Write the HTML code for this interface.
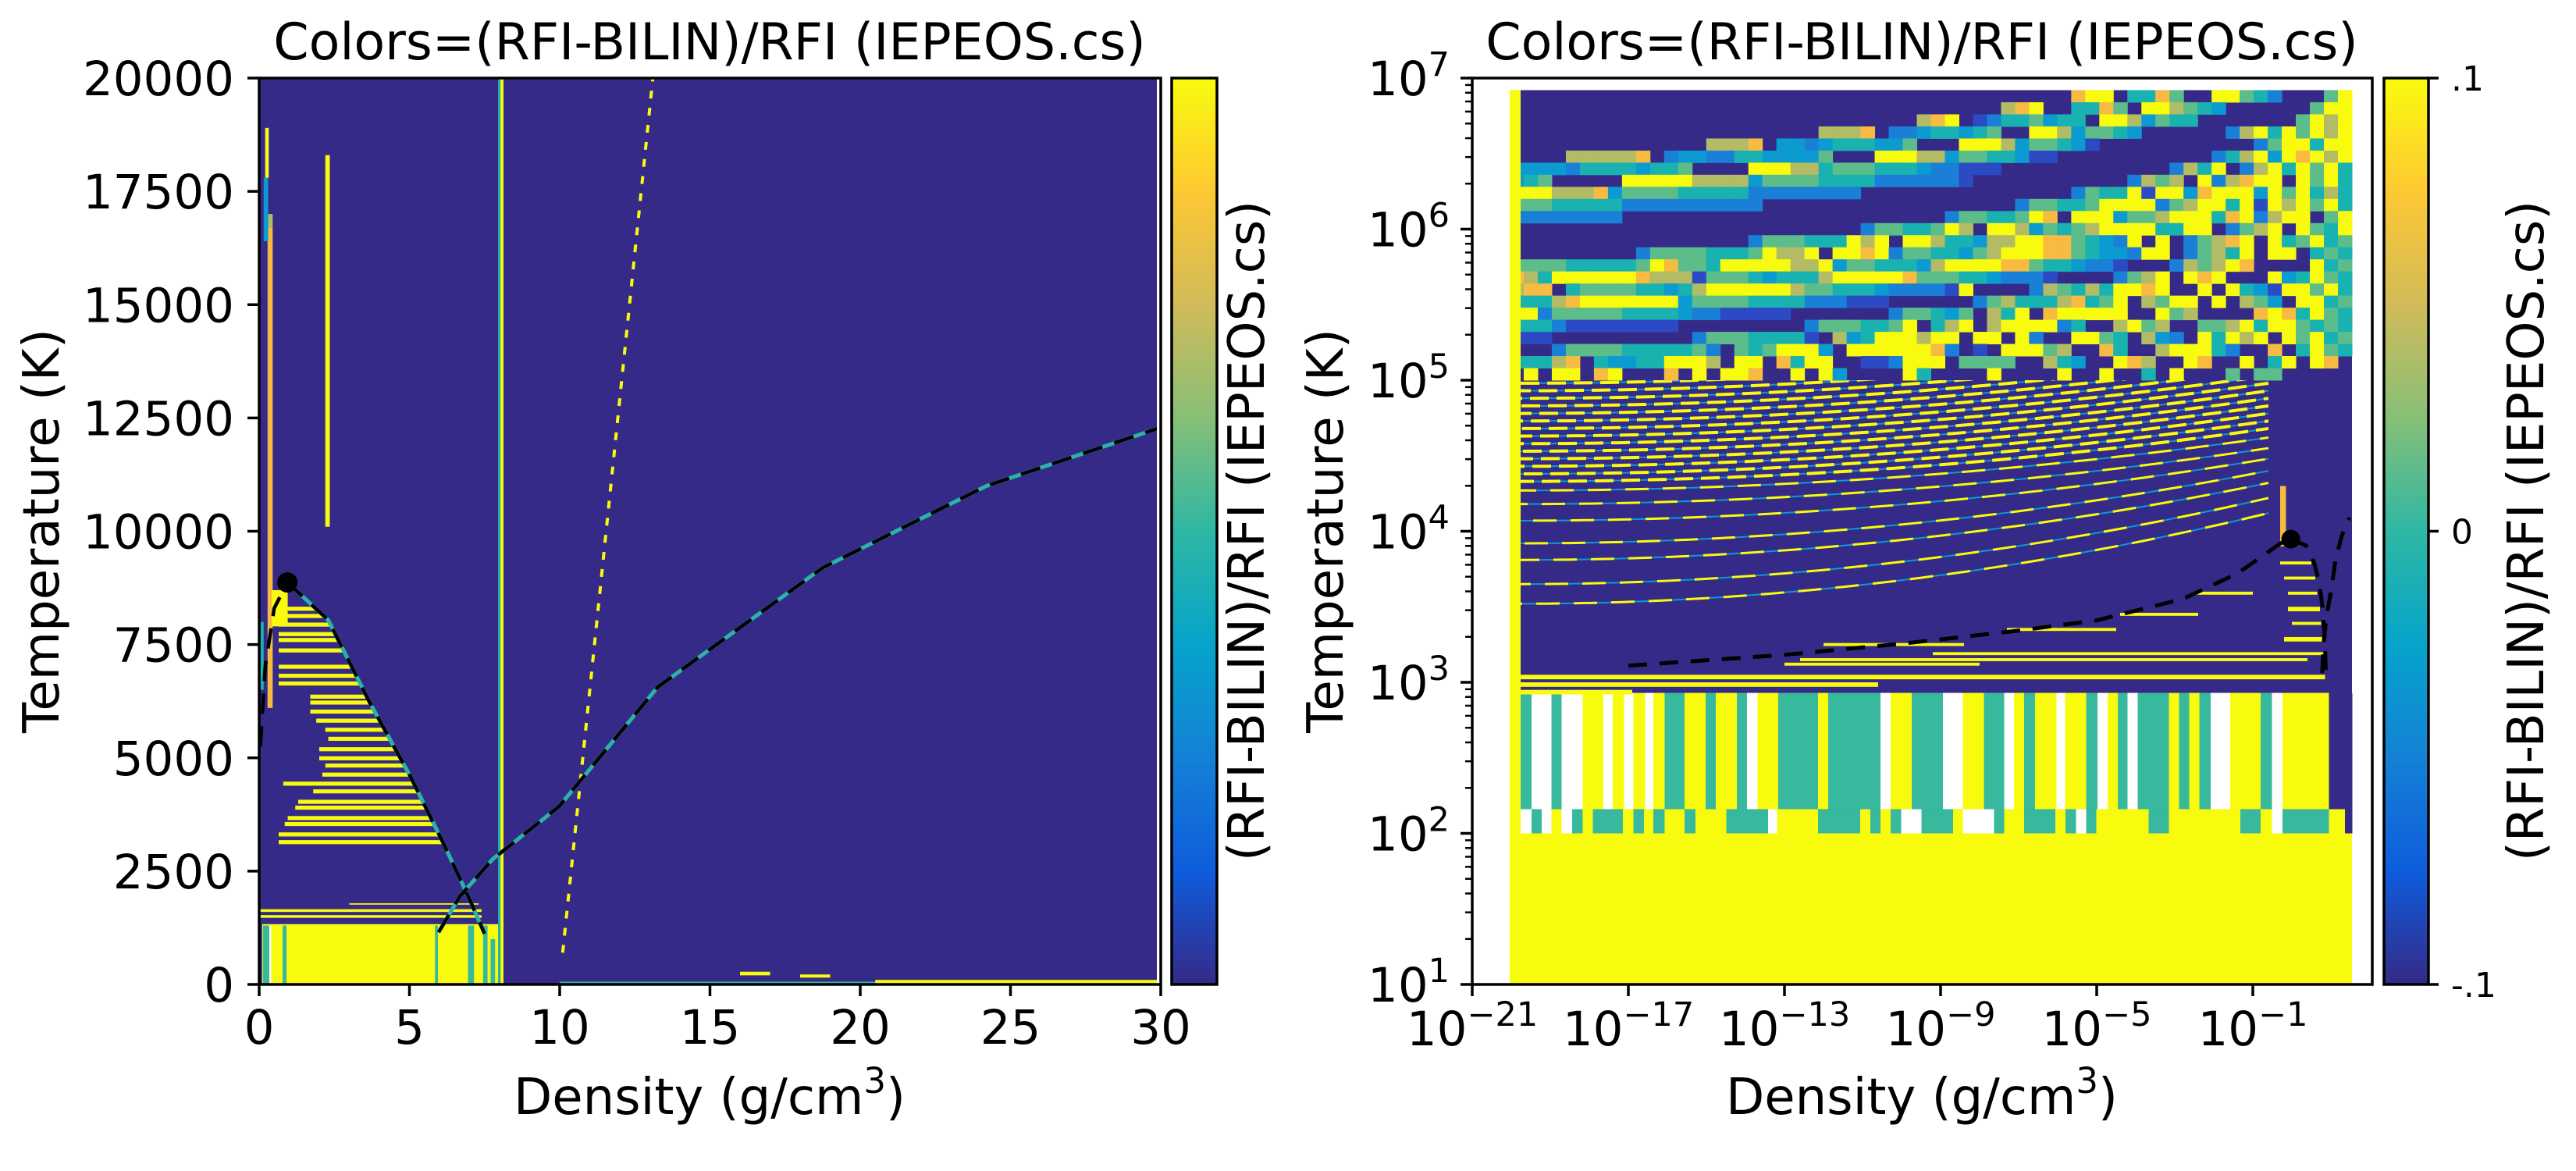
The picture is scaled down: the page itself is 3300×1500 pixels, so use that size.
<!DOCTYPE html>
<html><head><meta charset="utf-8">
<style>
html,body{margin:0;padding:0;background:#fff;}
svg{display:block;font-family:"DejaVu Sans","Liberation Sans",sans-serif;}
</style></head>
<body>
<svg id="chart" xmlns="http://www.w3.org/2000/svg" width="3300" height="1500" viewBox="0 0 3300 1500">
<defs>
<linearGradient id="parula" x1="0" y1="1" x2="0" y2="0">
<stop offset="0" stop-color="#352a87"/><stop offset="0.125" stop-color="#0f5cdd"/><stop offset="0.25" stop-color="#1481d6"/><stop offset="0.375" stop-color="#06a4ca"/><stop offset="0.5" stop-color="#2eb7a4"/><stop offset="0.625" stop-color="#87bf77"/><stop offset="0.75" stop-color="#d1bb59"/><stop offset="0.875" stop-color="#fec832"/><stop offset="1" stop-color="#f9fb0e"/>
</linearGradient>
<clipPath id="clipL"><rect x="332" y="100" width="1150" height="1161"/></clipPath>
<clipPath id="clipR"><rect x="1886" y="100" width="1153" height="1161"/></clipPath>
<clipPath id="clipCurves"><rect x="1886" y="487" width="1153" height="774"/></clipPath>
</defs>
<g id="left-plot"><g id="left-data" clip-path="url(#clipL)"></g></g>
<g id="right-plot"><g id="right-data" clip-path="url(#clipR)"></g></g>
<g id="axes-layer"></g>
</svg>
<script>
// ---------- data ----------
const liqRho=[0.94,2.3,3.67,5.04,6.14,6.96,7.5];
const liqT=[8870,8040,6230,4580,3100,1940,1120];
const gasRho=[1e-17,1e-13,1e-10,1e-7,1e-5,1.6e-3,0.04,0.2,0.5,0.94];
const gasT=[1290,1520,1800,2200,2570,3560,5250,7000,8300,8870];
const thirdRho=[5.97,6.68,7.78,9.97,13.26,18.74,24.2,30];
const thirdT=[1150,1945,2770,3920,6560,9190,11000,12290];
const critRho=[0.94];
const critT=[8870];
const leftStripeT=[8290,8130,7940,7730,7600,7370,7010,6810,6640,6350,6220,6020,5820,5620,5420,5190,4990,4830,4630,4430,4260,4030,3900,3670,3540,3310,3140];
const leftStripeRho0=[0.65,0.65,0.65,0.65,0.65,0.65,0.65,0.65,0.65,1.7,1.7,1.7,1.9,2.2,2.3,2.0,2.0,2.2,2.1,0.8,1.8,1.3,1.2,0.95,0.85,0.65,0.65];
// [rho0,rho1,T0,T1,colorCode]
const leftRects=[
 [0.1,8.0,0,1330,'Y'],[0.13,0.34,0,1300,'S'],[0.34,0.4,30,1300,'W'],[0.78,0.91,0,1300,'S'],[5.85,5.95,0,1300,'S'],[6.95,7.15,0,1300,'S'],[7.45,7.6,0,1300,'S'],[7.7,7.85,0,1000,'S'],
 [0,7.4,1600,1660,'Y'],[0,7.4,1470,1530,'Y'],[3.0,7.3,1760,1790,'Y'],
 [0.28,0.45,6100,16700,'O'],[0.15,0.3,16400,17800,'C'],[0.2,0.32,17800,18900,'Y'],[0.3,0.45,16700,17000,'L'],[0.42,0.95,7900,8700,'Y'],[0.05,0.15,6500,8000,'T'],
 [2.2,2.35,10100,18300,'Y'],[7.95,8.03,0,20000,'T'],[8.03,8.13,0,20000,'Y'],
 [10,20.5,0,60,'S'],[20.5,30,0,100,'Y'],[16,17,200,280,'Y'],[18,19,150,220,'Y']
];
const dotLineRho=[10.1,13.1];
const dotLineT=[700,20000];
// right mosaic rows (top row first), 60 columns each
const mosaicRows=[
"NNNNNNNNNNNNNNNNNNNNNNNNNNNNNNNNNNNNNNNNOYYNTTOGNNYYGTBNNNGY",
"NNNNNNNNNNNNNNNNNNNNNNNNNNNNNNNNNNNLOYNNTTOGNYYLGTCNNNNNNGYY",
"NNNNNNNNNNNNNNNNNNNNNNNNNNNNNLOYNDBTTGCTTNYYLCGTTNNNNNNNGYLY",
"NNNNNNNNNNNNNNNNNNNNNNLLLONBBCTTCTGNNYYLCGGTCNNNNNNBLYTYGYLY",
"NNNNNNNNNNNNNNLLLONCCBCTTTCCGNNNYYYLCGGTCDNNNNNNNNNNNBGYYTYY",
"NNNNLLLLLONBCCBBTTCCCCGNNNYYYLLCGGTTCDDNNNNNNNNNNNBTLYCYOYLY",
"CCCCBTTTTCTTGNNNNYYYLLTGGGTTTCBBDDDNNNNNNNNNNNNBLTYNBLYTYGYT",
"CTGNNNNNYYYYYLLLLCGGGGTTTTBBBBBBDNNNNNNNNNNNBLGLNYBLOYYNYGYT",
"YYYLLLOCGGGGTTTTTBBBBBBBBNNNNNNNNNNNNNNNBGTTYDYYCOYYYCYGYTLT",
"GGGTTTTTBBBBBBBBBBNNNNNNNNNNNNNNNNNNBGGTTGYYYYBGLYYTYDYLYGYT",
"BBBBBBBBNNNNNNNNNNNNNNNNNNNNNNNBGGTTGYONYYYCGGLYYYTOYBLYYNGY",
"NNNNNNNNNNNNNNNNNNNNNNNNNBGGTTGYLNYYLCGTGLYYYYTTYYNBGLYNYGTY",
"NNNNNNNNNNNNNNNNNBGGGTTTYLYNYYLTTCLLYYOOGTCBYNYNBGLOYNYTGYTG",
"NNNNNNNNNBGGGGTTTGYLLYNYYOYBGGTTCGLYYYOOGTCCBYYNBGLTYNYYNTGT",
"GGGGTTTTTGYOGGTYYYYYLLYCGGTTTCLYYYYOOGTTCBBDNNNBLGLYONNNNYTG",
"OLTYYYYYYOLLLDGGGTCTTTLYYYYYOGGGTTCBBBDNNNNBGLYNYOYNNNYCTYGT",
"LOONTGGGGTTCTLYYYYYYLGGTTTCBBBBDYNNNNBLGTLTYYOYNNYNYTCDYYGYT",
"TTTLOYYYYYYYCGGGGTTTTBBBDDDNNNNNNBGLTTTLOTGYNLGYYNYNLGCNYYTG",
"YYBGGGGGTTTTCBBDDDDDNNNNNNNBGGTCGNLTYNOYYYYYNNYGLNNNNOYOTYGT",
"TTTBDDDDDDDDNNNNNNNNNBGGGTTGYNTLYNLYYYYBTNNLYGLNNGGLYTYYGTGT",
"DDDNNNNNNNNNNBGGGTTTTDNLCTYYYLYYNYYNYBNNYYGTNLCBNYTYLYNYGYTG",
"NNNBGGGGTTTTTGBNGTGYYYCNYYYYYYOBNDNYYYGLNNOTNNLYYYTBNNONTYGT",
"TTTLONTCCTTYYYLNYYNOTYYNNDDBYYYNGGGGNNLTCNNYOLNNYONNYNTYNYON",
"NYNYYNOYNNNONYNYYONNYNYCNNNNYTNNNNYNNNNYNNYNNTNYNNNGNGGNNNNN"
];
// vertical stripe bands: [end log10(rho), code]
const band1=[[-19.77,'Y'],[-19.48,'S'],[-18.97,'W'],[-18.71,'S'],[-18.17,'W'],[-17.64,'Y'],[-17.40,'W'],[-17.11,'Y'],[-16.87,'W'],[-16.57,'Y'],[-16.36,'W'],[-16.07,'Y'],[-15.56,'S'],[-15.02,'Y'],[-14.76,'S'],[-14.22,'Y'],[-13.96,'S'],[-13.69,'W'],[-13.16,'Y'],[-12.14,'S'],[-11.88,'Y'],[-10.54,'S'],[-10.28,'W'],[-9.74,'Y'],[-8.94,'S'],[-8.43,'W'],[-7.89,'Y'],[-7.37,'S'],[-7.12,'W'],[-6.86,'Y'],[-6.58,'S'],[-6.03,'Y'],[-5.81,'W'],[-5.27,'Y'],[-4.98,'S'],[-4.72,'W'],[-4.46,'Y'],[-4.21,'S'],[-3.95,'W'],[-3.15,'S'],[-2.89,'Y'],[-2.63,'S'],[-2.37,'Y'],[-2.08,'S'],[-1.58,'W'],[-0.8,'Y'],[-0.51,'S'],[-0.24,'W'],[0.95,'Y'],[1.54,'N']];
const band2=[[-19.77,'Y'],[-19.48,'W'],[-19.22,'S'],[-18.97,'W'],[-18.71,'Y'],[-18.44,'W'],[-18.17,'S'],[-17.91,'Y'],[-17.14,'S'],[-16.87,'Y'],[-16.60,'S'],[-16.36,'Y'],[-16.07,'S'],[-15.56,'Y'],[-15.28,'S'],[-14.49,'Y'],[-13.42,'S'],[-13.19,'W'],[-12.14,'Y'],[-11.06,'S'],[-10.80,'Y'],[-10.54,'S'],[-10.28,'Y'],[-10.01,'S'],[-9.49,'W'],[-8.68,'S'],[-8.43,'Y'],[-7.63,'W'],[-7.37,'S'],[-6.86,'Y'],[-6.06,'S'],[-5.80,'Y'],[-5.53,'S'],[-5.27,'W'],[-5.01,'S'],[-3.67,'Y'],[-3.15,'S'],[-1.32,'Y'],[-0.8,'S'],[-0.51,'Y'],[-0.24,'W'],[0.95,'S'],[1.36,'Y'],[1.54,'N']];
// horizontal yellow stripes: [logT top, logT bottom, log rho0, log rho1]
const hStripes=[[3.05,3.02,-19.8,0.85],[3.2,3.18,-9.2,0.85],[3.16,3.14,-12.6,0.4],[3.13,3.11,-13,-8],[3.0,2.97,-20,-10.6],[2.95,2.92,-20,-16.9],[3.36,3.34,-7.3,-4.5],[3.46,3.44,-4.4,-2.4],[3.26,3.24,-12,-8.4],[3.6,3.58,-2.5,-1.0],[3.8,3.78,-0.3,0.5],[3.7,3.68,-0.2,0.6],[3.6,3.58,-0.1,0.65],[3.5,3.47,-0.1,0.72],[3.4,3.38,0.0,0.75],[3.3,3.27,-0.2,0.78]];
const curveStart=[4.98,4.93,4.88,4.83,4.78,4.73,4.68,4.63,4.58,4.53,4.48,4.43,4.38,4.33,4.27,4.18,4.07,3.92,3.81,3.65,3.52];
const curveEnd=[5.33,5.28,5.23,5.18,5.13,5.08,5.03,4.98,4.93,4.88,4.83,4.78,4.73,4.68,4.62,4.55,4.48,4.4,4.32,4.22,4.12];
const leftXTicks=[0,5,10,15,20,25,30];
const leftYTicks=[0,2500,5000,7500,10000,12500,15000,17500,20000];
const rightXTicks=[-21,-17,-13,-9,-5,-1];
const rightYTicks=[1,2,3,4,5,6,7];
const cbarTicks=[-0.1,0,0.1];
const cbarTickLabels=['-.1','0','.1'];

const COL={N:'#352a87',Y:'#f9fb0e',T:'#19b2b0',S:'#38b99e',G:'#5cbd8b',L:'#b3bb64',O:'#f6bb40',B:'#1a7fd7',D:'#2c4ac4',C:'#0b9bd1',W:'#ffffff'};

// ---------- scales ----------
const L={x0:332,x1:1487,y0:1261,y1:100};
const lx=r=>L.x0+r/30*(L.x1-L.x0);
const ly=t=>L.y0-t/20000*(L.y0-L.y1);
const R={x0:1886,y0:1261};
const rx=lr=>R.x0+(lr+21)*50;
const ry=lt=>R.y0-(lt-1)*193.5;
const NS='http://www.w3.org/2000/svg';
function mk(tag,attrs,parent){const e=document.createElementNS(NS,tag);for(const k in attrs)e.setAttribute(k,attrs[k]);parent.appendChild(e);return e;}
function interp(xs,ys,y){for(let i=0;i<ys.length-1;i++){const a=ys[i],b=ys[i+1];if((y<=a&&y>=b)||(y>=a&&y<=b)){return xs[i]+(xs[i+1]-xs[i])*(y-a)/(b-a);}}return xs[xs.length-1];}

const LD=document.getElementById('left-data');
const RD=document.getElementById('right-data');
const AX=document.getElementById('axes-layer');

// ---------- left heatmap ----------
let bg=mk('rect',{x:lx(0),y:ly(20000),width:lx(30)-lx(0),height:ly(0)-ly(20000),fill:COL.N},LD);


leftRects.forEach(r=>{
 const e=mk('rect',{x:lx(r[0]),y:ly(r[3]),width:lx(r[1])-lx(r[0]),height:ly(r[2])-ly(r[3]),fill:COL[r[4]]},LD);
 
 
});
leftStripeT.forEach((t,i)=>{
 const r1=interp(liqRho,liqT,t);
 const e=mk('rect',{x:lx(leftStripeRho0[i]),y:ly(t+45),width:Math.max(0,lx(r1)-lx(leftStripeRho0[i])),height:ly(t-45)-ly(t+45),fill:COL.Y},LD);
 
 
});
let dl=mk('line',{x1:lx(dotLineRho[0]),y1:ly(dotLineT[0]),x2:lx(dotLineRho[1]),y2:ly(dotLineT[1]),stroke:COL.Y,'stroke-width':4,'stroke-dasharray':'10 12'},LD);


function ptsL(rs,ts,minR){return rs.map((r,i)=>r>=minR?lx(r)+','+ly(ts[i]):null).filter(Boolean).join(' ');}
[[liqRho,liqT],[thirdRho,thirdT]].forEach(b=>{
 const e=mk('polyline',{points:ptsL(b[0],b[1],0),fill:'none',stroke:'#2ab3a6','stroke-width':5},LD);
 
 
});
[[gasRho,gasT,0.03],[liqRho,liqT,0],[thirdRho,thirdT,0]].forEach(b=>{
 const e=mk('polyline',{points:ptsL(b[0],b[1],b[2]),fill:'none',stroke:'#000','stroke-width':4.5,'stroke-dasharray':'26 16'},LD);
 
 
});
let cd=mk('circle',{cx:lx(critRho[0]),cy:ly(critT[0]),r:13,fill:'#000'},LD);



// ---------- right heatmap ----------
const rL=-20.04,rR=1.54,tTop=6.92;
let rbg=mk('rect',{x:rx(rL),y:ry(tTop),width:rx(rR)-rx(rL),height:ry(1)-ry(tTop),fill:COL.N},RD);


// curves
const CG=mk('g',{'clip-path':'url(#clipCurves)'},RD);


curveStart.forEach((s,i)=>{
 const e0=curveEnd[i];const pts=[];
 for(let k=0;k<=30;k++){const u=k/30;const lr=-19.76+u*19.16;pts.push(rx(lr)+','+ry(s+(e0-s)*u*u));}
 const p=pts.join(' ');
 const b=mk('polyline',{points:p,fill:'none',stroke:COL.C,'stroke-width':2},CG);
 
 
 const a=mk('polyline',{points:p,fill:'none',stroke:COL.Y,'stroke-width':i<14?4:3,'stroke-dasharray':i<14?'24 10':'30 18','stroke-dashoffset':i*11},CG);
 
 
});
// mosaic
const nCols=60,nRows=mosaicRows.length,cw=(rR-rL)/nCols,rh=(tTop-5.0)/nRows;
mosaicRows.forEach((row,ri)=>{
 for(let c=0;c<nCols;c++){
  const code=row[c];if(code==='N')continue;
  const e=mk('rect',{x:rx(rL+c*cw),y:ry(tTop-ri*rh),width:rx(rL+(c+1)*cw)-rx(rL+c*cw)+0.5,height:ry(tTop-(ri+1)*rh)-ry(tTop-ri*rh)+0.5,fill:COL[code]},RD);
  
  
 }
});
// bands
function band(list,tHi,tLo,name){let start=rL;list.forEach(b=>{const e=mk('rect',{x:rx(start),y:ry(tHi),width:rx(b[0])-rx(start)+0.5,height:ry(tLo)-ry(tHi),fill:COL[b[1]]},RD);start=b[0];});}
band(band1,2.93,2.16,'band-stripe-upper');
band(band2,2.16,2.0,'band-stripe-lower');
let yb=mk('rect',{x:rx(rL),y:ry(2.0),width:rx(rR)-rx(rL),height:ry(1)-ry(2.0),fill:COL.Y},RD);


hStripes.forEach(s=>{
 const e=mk('rect',{x:rx(s[2]),y:ry(s[0]),width:rx(s[3])-rx(s[2]),height:ry(s[1])-ry(s[0]),fill:COL.Y},RD);
 
 
});
let oc=mk('rect',{x:rx(-0.3),y:ry(4.3),width:rx(-0.15)-rx(-0.3),height:ry(3.9)-ry(4.3),fill:COL.O},RD);


let ly0=mk('rect',{x:rx(rL),y:ry(tTop),width:rx(-19.76)-rx(rL),height:ry(1)-ry(tTop),fill:COL.Y},RD);


function ptsR(rs,ts){return rs.map((r,i)=>rx(Math.log10(r))+','+ry(Math.log10(ts[i]))).join(' ');}
[[gasRho,gasT],[liqRho,liqT],[thirdRho,thirdT]].forEach(b=>{
 const e=mk('polyline',{points:ptsR(b[0],b[1]),fill:'none',stroke:'#000','stroke-width':5,'stroke-dasharray':'24 16'},RD);
 
 
});
let cd2=mk('circle',{cx:rx(Math.log10(critRho[0])),cy:ry(Math.log10(critT[0])),r:12,fill:'#000'},RD);



// ---------- axes ----------
function txt(s,attrs,name){const e=mk('text',attrs,AX);e.textContent=s;return e;}
function frame(x0,y0,x1,y1,name){const e=mk('rect',{x:x0,y:y0,width:x1-x0,height:y1-y0,fill:'none',stroke:'#000','stroke-width':3.5},AX);}
function tick(x1,y1,x2,y2,w){const e=mk('line',{x1,y1,x2,y2,stroke:'#000','stroke-width':w||3.5},AX);}
frame(L.x0,L.y1,L.x1,L.y0,'left-axes-frame');
leftXTicks.forEach(v=>{tick(lx(v),L.y0,lx(v),L.y0+15);txt(String(v),{x:lx(v),y:1337,'font-size':61,'text-anchor':'middle'},'x-tick-label');});
leftYTicks.forEach(v=>{tick(L.x0-15,ly(v),L.x0,ly(v));txt(String(v),{x:300,y:ly(v)+22,'font-size':61,'text-anchor':'end'},'y-tick-label');});
txt('Colors=(RFI-BILIN)/RFI (IEPEOS.cs)',{x:909,y:76,'font-size':65,'text-anchor':'middle'},'left-title');
let xl=txt('Density (g/cm',{x:909,y:1427,'font-size':64,'text-anchor':'middle'},'left-x-axis-title');
let s1=mk('tspan',{dy:-27,'font-size':45},xl);s1.textContent='3';
let s2=mk('tspan',{dy:27},xl);s2.textContent=')';
txt('Temperature (K)',{transform:'translate(75,680) rotate(-90)','font-size':64,'text-anchor':'middle'},'left-y-axis-title');
let cb1=mk('rect',{x:1501,y:100,width:58,height:1161,fill:'url(#parula)',stroke:'#000','stroke-width':3.5},AX);


txt('(RFI-BILIN)/RFI (IEPEOS.cs)',{transform:'translate(1619,680) rotate(-90)','font-size':64,'text-anchor':'middle'},'left-colorbar-title');

// right axes
const RX1=3039;
frame(R.x0,100,RX1,R.y0,'right-axes-frame');
rightXTicks.forEach(v=>{tick(rx(v),R.y0,rx(v),R.y0+15);const t=txt('10',{x:rx(v),y:1339,'font-size':61,'text-anchor':'middle'},'x-tick-label');const sp=mk('tspan',{dy:-25,'font-size':43},t);sp.textContent='\u2212'+Math.abs(v);});
rightYTicks.forEach(v=>{tick(R.x0-15,ry(v),R.x0,ry(v));const t=txt('10',{x:1857,y:ry(v)+22,'font-size':61,'text-anchor':'end'},'y-tick-label');const sp=mk('tspan',{dy:-25,'font-size':43},t);sp.textContent=String(v);
 if(v<7){for(let m=2;m<=9;m++){tick(R.x0-9,ry(v+Math.log10(m)),R.x0,ry(v+Math.log10(m)),2.5);}}});
txt('Colors=(RFI-BILIN)/RFI (IEPEOS.cs)',{x:2462,y:76,'font-size':65,'text-anchor':'middle'},'right-title');
let xl2=txt('Density (g/cm',{x:2462,y:1427,'font-size':64,'text-anchor':'middle'},'right-x-axis-title');
let s3=mk('tspan',{dy:-27,'font-size':45},xl2);s3.textContent='3';
let s4=mk('tspan',{dy:27},xl2);s4.textContent=')';
txt('Temperature (K)',{transform:'translate(1720,680) rotate(-90)','font-size':64,'text-anchor':'middle'},'right-y-axis-title');
let cb2=mk('rect',{x:3054,y:100,width:57,height:1161,fill:'url(#parula)',stroke:'#000','stroke-width':3.5},AX);


cbarTicks.forEach((v,i)=>{const y=1261-(v+0.1)/0.2*1161;tick(3111,y,3124,y);txt(cbarTickLabels[i],{x:3140,y:y+16,'font-size':44},'colorbar-tick-label');});
txt('(RFI-BILIN)/RFI (IEPEOS.cs)',{transform:'translate(3258,680) rotate(-90)','font-size':64,'text-anchor':'middle'},'right-colorbar-title');
</script>
</body></html>
